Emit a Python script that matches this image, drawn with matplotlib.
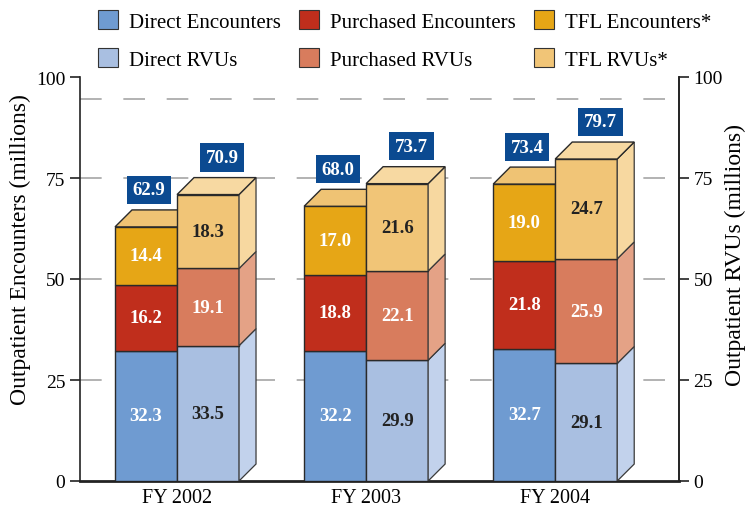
import numpy as np
import matplotlib.pyplot as plt
from matplotlib.patches import Polygon, Patch

plt.rcParams['font.family'] = ['Liberation Serif', 'DejaVu Serif']

# DATOS
years = ["FY 2002", "FY 2003", "FY 2004"]
direct_enc = [32.3, 32.2, 32.7]
purchased_enc = [16.2, 18.8, 21.8]
tfl_enc = [14.4, 17.0, 19.0]
direct_rvu = [33.5, 29.9, 29.1]
purchased_rvu = [19.1, 22.1, 25.9]
tfl_rvu = [18.3, 21.6, 24.7]
enc_totals = [62.9, 68.0, 73.4]
rvu_totals = [70.9, 73.7, 79.7]

# COLORES
enc_colors = ["#6f9bd1", "#c02e1c", "#e6a616"]
rvu_colors = ["#a9bfe1", "#d87c5d", "#f1c577"]
rvu_side = ["#c2d2ec", "#e4a286", "#f7d8a0"]
enc_top = "#efc374"
rvu_top = "#f7d9a2"
enc_text = ["white", "white", "white"]
rvu_text = ["#222222", "white", "#222222"]
box_color = "#0b4a91"

# GEOMETRÍA 3D
dx = 0.274
dy = 4.2
spacing = 3.05
centers = 1.565 + spacing * np.arange(len(years))

fig = plt.figure(figsize=(7.46, 5.10), dpi=100)
ax = fig.add_axes([80 / 746, 28 / 510, 599 / 746, 404 / 510])
ax.set_xlim(0, 599 / 62)
ax.set_ylim(0, 100)

# LÍNEAS DE REFERENCIA DISCONTINUAS
for yv in [25, 50, 75, 94.5]:
    ax.plot([0, 599 / 62], [yv, yv], color="#a6a6a6", linewidth=1.2,
            dashes=(13, 13), zorder=1)


def draw_bar(x0, segments, colors, side_colors, top_color, text_colors, z):
    x1 = x0 + 1
    bottom = 0
    for val, col, tcol, scol in zip(segments, colors, text_colors, side_colors):
        top = bottom + val
        ax.add_patch(Polygon([(x0, bottom), (x1, bottom), (x1, top), (x0, top)],
                             closed=True, facecolor=col, edgecolor="#2a2a2a",
                             linewidth=1.0, zorder=z))
        if scol is not None:
            ax.add_patch(Polygon([(x1, bottom), (x1 + dx, bottom + dy),
                                  (x1 + dx, top + dy), (x1, top)],
                                 closed=True, facecolor=scol, edgecolor="#3a3a3a",
                                 linewidth=0.9, zorder=z))
        ax.text(x0 + 0.5, bottom + val / 2, f"{val:.1f}", ha="center",
                va="center", color=tcol, fontsize=13.5, fontweight="bold",
                zorder=z + 1)
        bottom = top
    ax.add_patch(Polygon([(x0, bottom), (x0 + dx, bottom + dy),
                          (x1 + dx, bottom + dy), (x1, bottom)],
                         closed=True, facecolor=top_color, edgecolor="#2a2a2a",
                         linewidth=1.0, zorder=z))
    return bottom


for i, c in enumerate(centers):
    segs_e = [direct_enc[i], purchased_enc[i], tfl_enc[i]]
    segs_r = [direct_rvu[i], purchased_rvu[i], tfl_rvu[i]]
    draw_bar(c - 1, segs_e, enc_colors, [None] * 3, enc_top, enc_text, 3)
    draw_bar(c, segs_r, rvu_colors, rvu_side, rvu_top, rvu_text, 5)
    ax.text(c - 0.45, enc_totals[i] + dy + 5.0, f"{enc_totals[i]:.1f}",
            ha="center", va="center", color="white", fontsize=13.5,
            fontweight="bold", zorder=8,
            bbox=dict(boxstyle="square,pad=0.3", facecolor=box_color,
                      edgecolor="none"))
    ax.text(c + 0.73, rvu_totals[i] + dy + 5.0, f"{rvu_totals[i]:.1f}",
            ha="center", va="center", color="white", fontsize=13.5,
            fontweight="bold", zorder=8,
            bbox=dict(boxstyle="square,pad=0.3", facecolor=box_color,
                      edgecolor="none"))

# EJES
ax.set_xticks(centers)
ax.set_xticklabels(years, fontsize=14.5)
ax.tick_params(axis="x", length=0, pad=5)
ax.set_yticks([0, 25, 50, 75, 100])
ax.tick_params(axis="y", labelsize=14, length=7, width=1.2, color="#222222",
               direction="out")
ax.spines["top"].set_visible(False)
ax.spines["left"].set_linewidth(1.2)
ax.spines["right"].set_linewidth(1.2)
ax.spines["bottom"].set_linewidth(2.0)
for s in ["left", "right", "bottom"]:
    ax.spines[s].set_color("#222222")

ax2 = ax.twinx()
ax2.set_ylim(0, 100)
ax2.set_yticks([0, 25, 50, 75, 100])
ax2.tick_params(axis="y", labelsize=14, length=7, width=1.2, color="#222222",
                direction="out")
for s in ["top", "left", "bottom"]:
    ax2.spines[s].set_visible(False)
ax2.spines["right"].set_linewidth(1.2)
ax2.spines["right"].set_color("#222222")

fig.text(20 / 746, 1 - 250 / 510, "Outpatient Encounters (millions)",
         rotation=90, ha="center", va="center", fontsize=17)
fig.text(735 / 746, 1 - 255 / 510, "Outpatient RVUs (millions)",
         rotation=90, ha="center", va="center", fontsize=17)

# LEYENDA
labels = ["Direct Encounters", "Direct RVUs", "Purchased Encounters",
          "Purchased RVUs", "TFL Encounters*", "TFL RVUs*"]
cols = [enc_colors[0], rvu_colors[0], enc_colors[1], rvu_colors[1],
        enc_colors[2], rvu_colors[2]]
handles = [Patch(facecolor=cc, edgecolor="#333333", linewidth=0.8) for cc in cols]
fig.legend(handles, labels, ncol=3, loc="upper left",
           bbox_to_anchor=(98 / 746, 1 - 11 / 510), frameon=False, fontsize=15,
           handlelength=0.96, handleheight=1.05, handletextpad=0.55,
           columnspacing=0.85, labelspacing=0.78, borderpad=0,
           borderaxespad=0)

fig.savefig("out.png", dpi=100)
